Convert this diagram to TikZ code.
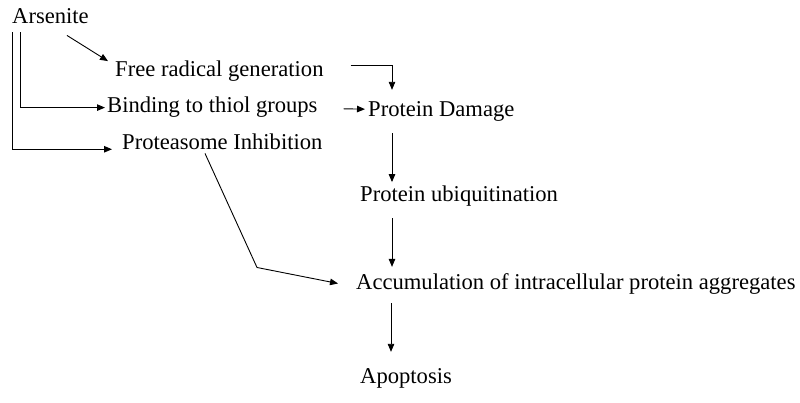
\documentclass[tikz,border=0pt]{standalone}
\usepackage{fontspec}
\setmainfont{Liberation Serif}
\usetikzlibrary{calc,arrows.meta}
\begin{document}
\begin{tikzpicture}[x=1pt,y=-1pt,
  lbl/.style={anchor=base west,inner sep=0pt,font=\fontsize{22.6}{26}\selectfont},
  arr/.style={draw=black,line width=0.9pt,-{Triangle[length=8pt,width=6.5pt]}}]
\useasboundingbox (0,0) rectangle (800,403);
\node[lbl] (ars)  at (12,24)  {Arsenite};
\node[lbl] (frg)  at (115,77) {Free radical generation};
\node[lbl] (bind) at (107,113) {Binding to thiol groups};
\node[lbl] (prot) at (122,150) {Proteasome Inhibition};
\node[lbl] (pd)   at (368,117) {Protein Damage};
\node[lbl] (pu)   at (360,202) {Protein ubiquitination};
\node[lbl] (acc)  at (356,290) {Accumulation of intracellular protein aggregates};
\node[lbl] (apo)  at (360,383) {Apoptosis};
% Arsenite branches
\draw[arr] ($(ars.south east)+(-22,11)$) -- ($(frg.north west)+(-7,0)$);
\draw[arr] ($(ars.south west)+(8,8)$) |- ($(bind.west)+(-2,0)$);
\draw[arr] ($(ars.south west)+(0,8)$) |- ($(prot.west)+(-10,7)$);
% to protein damage
\draw[arr] ($(frg.east)+(27,-6)$) -| ($(pd.north west)+(24,-12)$);
\draw[arr] ($(bind.east)+(26,1.2)$) -- ($(pd.west)+(-3,-2.8)$);
% main chain
\draw[arr] ($(pd.south west)+(24,11)$) -- ($(pu.north west)+(32,-4)$);
\draw[arr] ($(pu.south west)+(32,11)$) -- ($(acc.north west)+(36,-7)$);
\draw[arr] ($(acc.south west)+(35,8)$) -- ($(apo.north west)+(31,-16)$);
% proteasome inhibition to accumulation
\draw[arr] ($(prot.south west)+(83,3)$) -- ($(acc.west)+(-99,-17)$) -- ($(acc.west)+(-18,-1)$);
\end{tikzpicture}
\end{document}
